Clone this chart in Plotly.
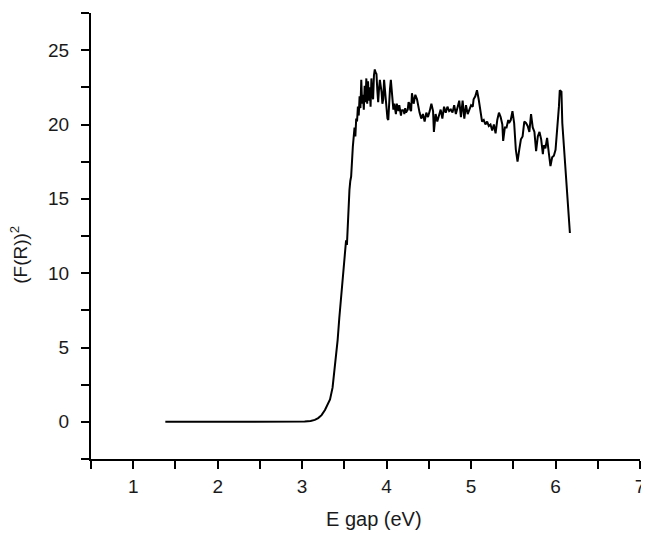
import plotly.graph_objects as go

# Energy (eV) and (F(R))^2 values
energy = [1.38, 1.6, 1.8, 2.0, 2.2, 2.4, 2.6, 2.8, 2.95, 3.03, 3.1, 3.15, 3.19, 3.23, 3.27, 3.30, 3.33,
          3.36, 3.38, 3.40, 3.42, 3.44, 3.46, 3.48, 3.50, 3.52, 3.53, 3.54, 3.56, 3.57, 3.58,
          3.60, 3.62, 3.63, 3.64, 3.65, 3.66, 3.67, 3.68, 3.69, 3.70, 3.71, 3.72, 3.73, 3.74, 3.75,
          3.76, 3.77, 3.78, 3.79, 3.80, 3.81, 3.82, 3.83, 3.84, 3.85, 3.86, 3.87, 3.88, 3.89, 3.90,
          3.91, 3.92, 3.93, 3.94, 3.95, 3.96, 3.97, 3.98, 3.99, 4.00, 4.01, 4.02, 4.03, 4.04, 4.05,
          4.06, 4.07, 4.08, 4.09, 4.10, 4.11, 4.12, 4.13, 4.14, 4.15, 4.16, 4.17, 4.18, 4.19, 4.20,
          4.21, 4.22, 4.23, 4.24, 4.25, 4.26, 4.27, 4.28, 4.29, 4.30,
          4.32, 4.34, 4.36, 4.39, 4.41, 4.43, 4.45, 4.47, 4.49, 4.51, 4.53, 4.55,
          4.56, 4.58, 4.60, 4.62, 4.64, 4.66, 4.68, 4.70, 4.72, 4.74, 4.76, 4.78, 4.80, 4.82, 4.84,
          4.86, 4.88, 4.90, 4.92, 4.94, 4.96, 4.98, 5.00, 5.02, 5.03, 5.05, 5.07, 5.09, 5.11, 5.13,
          5.15, 5.17, 5.19, 5.21, 5.23, 5.25, 5.27, 5.29, 5.31, 5.33, 5.35, 5.37, 5.38, 5.40, 5.42,
          5.44, 5.45, 5.47, 5.49, 5.51, 5.53, 5.55, 5.57, 5.59, 5.61, 5.63, 5.65, 5.67, 5.69, 5.71,
          5.73, 5.75, 5.77, 5.79, 5.81, 5.83, 5.85, 5.86, 5.88, 5.90, 5.92, 5.94, 5.96, 5.98, 6.00,
          6.02, 6.04, 6.05, 6.07, 6.08, 6.10, 6.12, 6.14, 6.16, 6.17]
f_r_sq = [0.0, 0.0, 0.0, 0.0, 0.0, 0.0, 0.0, 0.0, 0.0, 0.02, 0.06, 0.13, 0.25, 0.45, 0.8, 1.15, 1.5,
          2.3, 3.3, 4.4, 5.5, 7.0, 8.4, 9.8, 11.1, 12.2, 11.9, 13.4, 15.6, 16.2, 16.5,
          18.5, 19.8, 19.2, 20.4, 20.2, 21.2, 20.6, 21.9, 21.1, 23.0, 21.4, 22.0, 21.0, 22.6, 21.5,
          23.1, 21.4, 22.9, 21.6, 22.5, 21.2, 23.1, 22.0, 21.7, 23.3, 23.7, 23.5, 23.4, 22.3, 21.5,
          22.4, 23.0, 22.6, 22.2, 21.4, 21.7, 23.0, 22.4, 21.3, 21.0, 20.4, 20.3, 21.6, 22.4, 23.0,
          22.2, 21.8, 21.0, 21.4, 21.0, 20.7, 21.4, 21.0, 20.9, 21.3, 20.8, 20.6, 21.0, 20.9, 21.0,
          20.7, 21.1, 20.8, 20.9, 21.0, 21.5, 21.4, 21.0, 20.9, 22.1,
          21.4, 22.0, 21.7, 20.8, 20.4, 20.7, 20.2, 20.8, 20.5, 20.9, 21.4, 20.9,
          19.5, 20.7, 20.2, 20.6, 21.0, 20.4, 21.2, 20.8, 21.2, 20.9, 21.0, 20.8, 21.3, 20.7, 21.2,
          21.6, 20.5, 21.6, 20.4, 21.3, 20.7, 21.0, 21.3, 21.2, 21.7, 21.9, 22.3, 21.7, 20.8, 20.2,
          20.3, 20.0, 20.2, 19.9, 20.0, 19.6, 20.0, 19.4, 20.3, 20.8, 20.5, 20.0, 18.9, 19.8, 19.8,
          20.3, 20.1, 20.3, 20.9, 20.1, 18.3, 17.5, 18.3, 19.0, 19.2, 20.2, 20.1, 19.9, 19.5, 20.7,
          19.8, 19.5, 18.2, 19.2, 19.5, 19.0, 18.0, 18.6, 18.4, 19.1, 18.1, 17.2, 17.8, 17.9, 18.3,
          19.6, 21.2, 22.3, 22.2, 20.1, 18.5, 16.9, 15.4, 14.0, 12.7]

x_ticks = [1, 2, 3, 4, 5, 6, 7]
y_ticks = [0, 5, 10, 15, 20, 25]

font_family = "'Liberation Sans', Arial, sans-serif"
text_color = "#1a1a1a"

fig = go.Figure()
fig.add_trace(go.Scatter(
    x=energy, y=f_r_sq, mode="lines",
    line=dict(color="black", width=2),
    showlegend=False, hoverinfo="skip",
))

axis_common = dict(
    showgrid=False, zeroline=False,
    showline=True, linecolor="black", linewidth=2,
    ticks="outside", ticklen=8, tickwidth=2, tickcolor="black",
    tickfont=dict(family=font_family, size=19, color=text_color),
    ticklabeloverflow="allow",
)

# The page body has an 8px default margin, so the figure is sized 8px smaller
fig.update_layout(
    width=641, height=525,
    margin=dict(l=83, r=4, t=5, b=74),
    paper_bgcolor="white", plot_bgcolor="white",
    font=dict(family=font_family, color=text_color),
    xaxis=dict(
        range=[0.5, 7], tickmode="array", tickvals=x_ticks,
        minor=dict(dtick=0.5, tick0=0.5, ticks="outside", ticklen=8, tickwidth=2, tickcolor="black"),
        ticklabelstandoff=1,
        **axis_common,
    ),
    yaxis=dict(
        range=[-2.5, 27.5], tickmode="array", tickvals=y_ticks,
        minor=dict(dtick=2.5, tick0=0, ticks="outside", ticklen=8, tickwidth=2, tickcolor="black"),
        ticklabelstandoff=8,
        **axis_common,
    ),
    annotations=[
        dict(
            text="(F(R))<sup>2</sup>", textangle=-90,
            xref="paper", yref="paper", x=-0.130, y=0.457,
            xanchor="center", yanchor="middle", showarrow=False,
            font=dict(family=font_family, size=19, color=text_color),
        ),
        dict(
            text="E gap (eV)",
            xref="paper", yref="paper", x=0.516, y=-0.1345,
            xanchor="center", yanchor="middle", showarrow=False,
            font=dict(family=font_family, size=20, color=text_color),
        ),
    ],
)

fig.write_html("out.html")
